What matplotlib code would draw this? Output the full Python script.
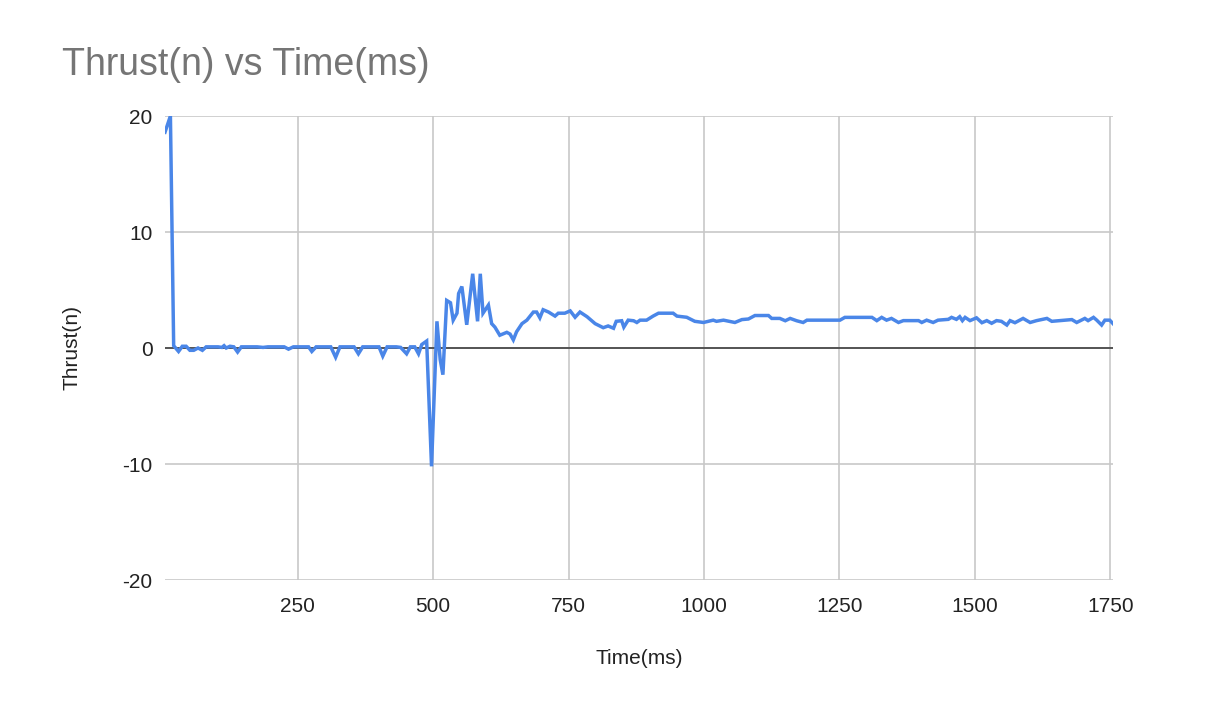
import matplotlib
matplotlib.use('Agg')
import matplotlib.pyplot as plt

plt.rcParams['font.family'] = ['Liberation Sans', 'DejaVu Sans']
plt.rcParams['axes.unicode_minus'] = False

# time stamps (ms) and thrust (n)
time_ms = [
    5, 15, 21, 30, 37, 44, 51, 58, 66, 74, 81, 88, 96, 103, 110, 114, 118,
    125, 132, 139, 146, 153, 160, 168, 175, 186, 195, 205, 215, 225, 233,
    242, 252, 262, 270, 276, 284, 293, 302, 311, 320, 328, 337, 346, 354,
    362, 370, 380, 390, 400, 407, 415, 424, 432, 440, 451, 458, 466, 473,
    479, 488, 497, 507, 513, 518, 525, 532, 537, 544, 547, 553, 562, 573,
    582, 587, 592, 602, 608, 614, 623, 636, 642, 648, 654, 664, 673, 685,
    691, 697, 703, 713, 725, 731, 743, 753, 762, 771, 784, 799, 814, 823,
    833, 838, 848, 852, 860, 870, 876, 882, 894, 906, 916, 943, 950, 968,
    983, 999, 1017, 1023, 1036, 1057, 1070, 1082, 1094, 1119, 1125, 1140,
    1150, 1159, 1171, 1183, 1190, 1251, 1260, 1310, 1319, 1328, 1337, 1346,
    1359, 1368, 1396, 1402, 1411, 1423, 1432, 1451, 1457, 1466, 1472, 1477,
    1482, 1491, 1503, 1513, 1522, 1531, 1540, 1549, 1559, 1565, 1574, 1589,
    1602, 1614, 1633, 1642, 1679, 1688, 1703, 1709, 1719, 1725, 1734, 1740,
    1749, 1755,
]
thrust_n = [
    18.6, 20.0, 0.2, -0.3, 0.15, 0.15, -0.2, -0.2, 0.0, -0.2, 0.1, 0.1, 0.1,
    0.1, 0.05, 0.2, 0.0, 0.15, 0.1, -0.35, 0.1, 0.1, 0.1, 0.1, 0.1, 0.05,
    0.1, 0.1, 0.1, 0.1, -0.1, 0.1, 0.1, 0.1, 0.1, -0.3, 0.1, 0.1, 0.1, 0.1,
    -0.8, 0.1, 0.1, 0.1, 0.1, -0.5, 0.1, 0.1, 0.1, 0.1, -0.7, 0.1, 0.1, 0.1,
    0.05, -0.5, 0.1, 0.1, -0.5, 0.3, 0.6, -10.2, 2.3, -1.0, -2.3, 4.1, 3.9,
    2.4, 3.0, 4.7, 5.3, 2.0, 6.4, 2.3, 6.4, 3.0, 3.7, 2.1, 1.8, 1.1, 1.35,
    1.2, 0.7, 1.4, 2.1, 2.4, 3.1, 3.1, 2.6, 3.3, 3.1, 2.75, 3.0, 3.0, 3.2,
    2.65, 3.1, 2.7, 2.1, 1.75, 1.9, 1.7, 2.3, 2.35, 1.8, 2.4, 2.35, 2.2,
    2.4, 2.4, 2.75, 3.0, 3.0, 2.75, 2.65, 2.3, 2.2, 2.4, 2.3, 2.4, 2.2,
    2.45, 2.5, 2.8, 2.8, 2.55, 2.55, 2.35, 2.55, 2.35, 2.2, 2.4, 2.4, 2.64,
    2.64, 2.36, 2.64, 2.4, 2.55, 2.2, 2.36, 2.36, 2.2, 2.4, 2.2, 2.4, 2.47,
    2.64, 2.47, 2.7, 2.36, 2.64, 2.36, 2.6, 2.18, 2.36, 2.13, 2.36, 2.3,
    1.98, 2.36, 2.18, 2.55, 2.2, 2.36, 2.55, 2.3, 2.45, 2.2, 2.55, 2.36,
    2.64, 2.4, 1.98, 2.4, 2.4, 2.1,
]
x_ticks = [250, 500, 750, 1000, 1250, 1500, 1750]
y_ticks = [-20, -10, 0, 10, 20]

fig = plt.figure(figsize=(12.14, 7.22), dpi=100)
ax = fig.add_axes([165 / 1214, 1 - 580 / 722, 948 / 1214, 464 / 722])

ax.plot(time_ms, thrust_n, color='#4a86e8', lw=2.5, solid_joinstyle='miter', zorder=3)
ax.axhline(0, color='#333333', lw=1.1, zorder=2)

ax.set_xlim(5, 1755)
ax.set_ylim(-20, 20)
ax.set_xticks(x_ticks)
ax.set_yticks(y_ticks)
ax.grid(True, color='#c8c8c8', lw=1.2)
ax.set_axisbelow(True)
for s in ax.spines.values():
    s.set_visible(False)
ax.tick_params(length=0, labelsize=15, labelcolor='#222222')
ax.tick_params(axis='x', pad=12)
ax.tick_params(axis='y', pad=9)

ax.set_xlabel('Time(ms)', fontsize=15, color='#222222', va='center')
ax.xaxis.set_label_coords(0.5, (580 - 659) / 464)
ax.set_ylabel('Thrust(n)', fontsize=15, color='#222222', va='center')
ax.yaxis.set_label_coords((72 - 165) / 948, 0.5)

fig.text(62 / 1214, 1 - 75 / 722, 'Thrust(n) vs Time(ms)', fontsize=27,
         color='#757575', va='baseline', ha='left')

fig.savefig('out.png', dpi=100)
